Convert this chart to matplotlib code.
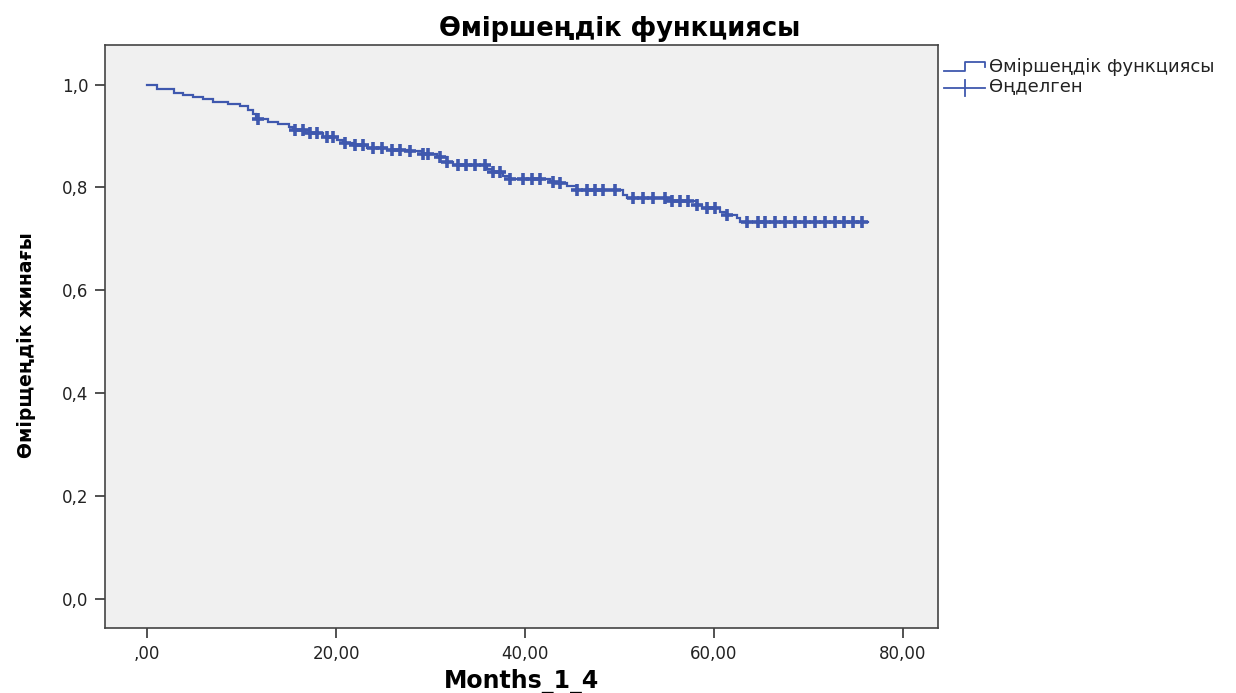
import matplotlib
matplotlib.use("Agg")
import matplotlib.pyplot as plt
import numpy as np
from matplotlib.lines import Line2D

# ---- data ----
event_times = [0.0, 1.0, 2.8, 3.8, 4.9, 5.9, 7.0, 8.6, 9.8, 10.7, 11.2, 11.5,
               12.8, 13.9, 15.0, 15.4, 16.7, 18.6, 20.1, 20.7, 21.8, 23.3,
               25.4, 27.8, 29.2, 30.7, 31.7, 32.4, 36.0, 36.6, 37.7, 38.4,
               42.6, 43.7, 44.4, 45.5, 50.4, 50.8, 55.0, 58.2, 58.7, 60.6,
               61.4, 62.4, 62.8]
survival = [1.000, 0.992, 0.984, 0.980, 0.975, 0.971, 0.966, 0.963, 0.958,
            0.951, 0.943, 0.933, 0.927, 0.923, 0.918, 0.912, 0.906, 0.899,
            0.893, 0.886, 0.883, 0.876, 0.873, 0.870, 0.865, 0.860, 0.850,
            0.843, 0.836, 0.830, 0.822, 0.817, 0.811, 0.808, 0.802, 0.794,
            0.786, 0.779, 0.774, 0.766, 0.760, 0.753, 0.747, 0.740, 0.733]
end_time = 76.3
censor_times = [11.7, 15.7, 16.5, 17.2, 18.0, 19.0, 19.7, 21.0, 22.0, 22.8,
                23.9, 24.9, 25.9, 26.8, 27.8, 29.2, 29.7, 31.0, 31.7, 32.9,
                33.8, 34.7, 35.8, 36.6, 37.4, 38.4, 39.8, 40.7, 41.6, 43.0,
                43.7, 45.5, 46.6, 47.4, 48.3, 49.5, 51.4, 52.5, 53.5, 54.8,
                55.6, 56.4, 57.2, 58.2, 59.3, 60.1, 61.4, 63.5, 64.6, 65.4,
                66.5, 67.5, 68.6, 69.6, 70.7, 71.7, 72.8, 73.7, 74.7, 75.7]
x_ticks = [0, 20, 40, 60, 80]
x_tick_labels = [",00", "20,00", "40,00", "60,00", "80,00"]
y_ticks = [0.0, 0.2, 0.4, 0.6, 0.8, 1.0]
y_tick_labels = ["0,0", "0,2", "0,4", "0,6", "0,8", "1,0"]
title = "Өміршеңдік функциясы"
x_label = "Months_1_4"
y_label = "Өмірщеңдік жинағы"
legend_labels = ["Өміршеңдік функциясы", "Өңделген"]

BLUE = "#3F58AE"
FONT = ["DejaVu Sans"]

fig = plt.figure(figsize=(12.36, 6.93), dpi=100)
W, H = 1236, 693
ax = fig.add_axes([105 / W, 1 - 628 / H, (938 - 105) / W, (628 - 45) / H])
ax.set_facecolor("#F0F0F0")

# step curve
xs = list(event_times) + [end_time]
ys = list(survival) + [survival[-1]]
ax.step(xs, ys, where="post", color=BLUE, lw=1.6, solid_joinstyle="miter")

# censor marks on curve
et = np.array(event_times)
sv = np.array(survival)
cy = [sv[np.searchsorted(et, c, side="right") - 1] for c in censor_times]
ax.plot(censor_times, cy, linestyle="none", marker="+", markersize=9,
        mew=2.6, color=BLUE)

ax.set_xlim(-4.45, 83.7)
ax.set_ylim(-0.057, 1.077)
ax.set_xticks(x_ticks)
ax.set_xticklabels(x_tick_labels, fontsize=12, family=FONT, color="#222222")
ax.set_yticks(y_ticks)
ax.set_yticklabels(y_tick_labels, fontsize=12, family=FONT, color="#222222")
ax.tick_params(direction="out", length=7, width=1.2, color="#333333", pad=5)
for s in ax.spines.values():
    s.set_color("#444444")
    s.set_linewidth(1.2)

fig.text(522 / W, 1 - 681 / H, x_label, fontsize=17, fontweight="bold",
         family=FONT, ha="center", va="center")
fig.text(27 / W, 1 - 345 / H, y_label, fontsize=13.5, fontweight="bold",
         family=["Liberation Sans Narrow", "DejaVu Sans"], rotation=90,
         ha="center", va="center")
fig.text(620 / W, 1 - 29 / H, title, fontsize=18.5, fontweight="bold",
         family=FONT, ha="center", va="center")

# legend (outside, drawn in pixel coordinates of an overlay axes)
lax = fig.add_axes([0, 0, 1, 1], facecolor="none")
lax.set_xlim(0, W)
lax.set_ylim(H, 0)
lax.axis("off")
lax.add_line(Line2D([944, 965, 965, 985, 985], [71, 71, 62, 62, 67],
                    color=BLUE, lw=1.3))
lax.add_line(Line2D([944, 985], [88, 88], color=BLUE, lw=1.3))
lax.add_line(Line2D([965, 965], [80, 96], color=BLUE, lw=1.3))
lax.text(989, 67, legend_labels[0], fontsize=13, family=FONT, va="center",
         ha="left", color="#222222")
lax.text(989, 87, legend_labels[1], fontsize=13, family=FONT, va="center",
         ha="left", color="#222222")

fig.savefig("out.png", dpi=100, facecolor="white")
